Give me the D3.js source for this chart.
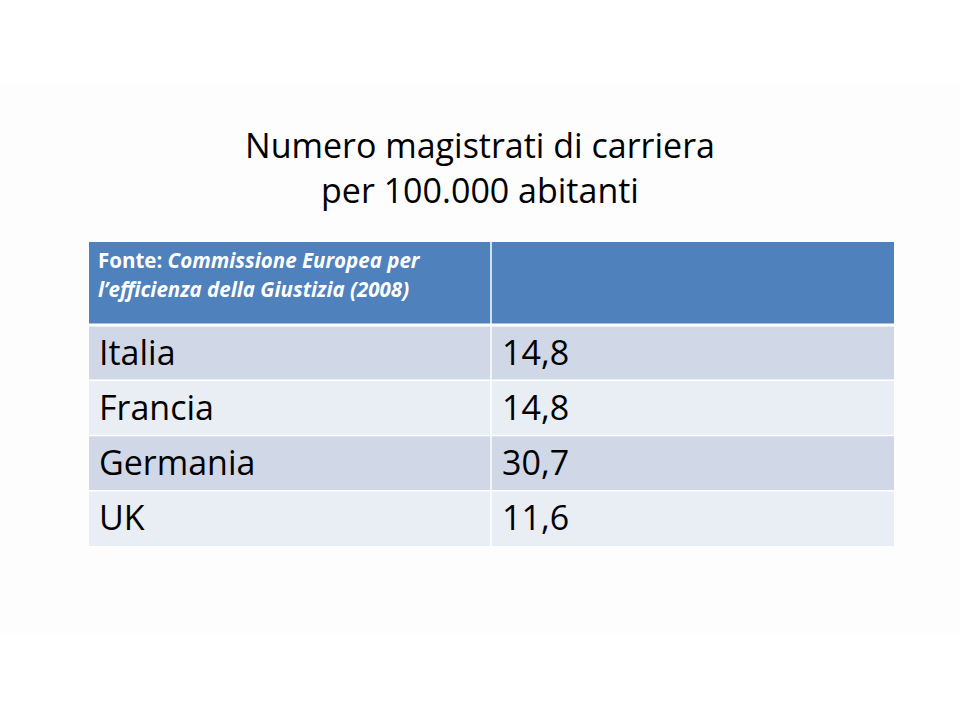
<!DOCTYPE html>
<html><head><meta charset="utf-8">
<script src="https://cdn.jsdelivr.net/npm/d3@7"></script>
<style>body{margin:0;background:#fff}</style>
</head><body><svg id="c" width="960" height="720"></svg>
<script>
const titleLines = ["Numero magistrati di carriera", "per 100.000 abitanti"];
const countries = ["Italia", "Francia", "Germania", "UK"];
const values = [14.8, 14.8, 30.7, 11.6];
const sourceLabel = "Fonte: ";
const sourceLines = ["Commissione Europea per", "l\u2019efficienza della Giustizia (2008)"];

const svg = d3.select("#c");
const font = "'Open Sans', 'Noto Sans', sans-serif";
svg.append("rect").attr("x",0).attr("y",85).attr("width",960).attr("height",548).attr("fill","#fdfdfe");
svg.selectAll(".t").data(titleLines).join("text")
  .attr("x",480).attr("y",(d,i)=>158+i*45).attr("text-anchor","middle")
  .attr("font-family",font).attr("font-size",34).attr("fill","#000").text(d=>d);

const x0 = 89, x1 = 894, xs = 491, headTop = 242, headBot = 325;
const y = d3.scaleBand().domain(countries).range([headBot, 546]).paddingInner(0);
svg.append("rect").attr("x",x0).attr("y",headTop).attr("width",x1-x0).attr("height",headBot-headTop).attr("fill","#4F81BD");
const hl = svg.append("g").attr("font-family",font).attr("font-size",20.5).attr("font-weight","bold").attr("fill","#fff");
const t1 = hl.append("text").attr("x",98).attr("y",268);
t1.append("tspan").text(sourceLabel);
t1.append("tspan").attr("font-style","italic").text(sourceLines[0]);
hl.append("text").attr("x",98).attr("y",297).attr("font-style","italic").text(sourceLines[1]);

const fmt = v => d3.format(".1f")(v).replace(".", ",");
const rows = svg.selectAll(".r").data(countries).join("g");
rows.append("rect").attr("x",x0).attr("y",d=>y(d)).attr("width",x1-x0).attr("height",y.bandwidth())
  .attr("fill",(d,i)=>i%2===0?"#D0D8E8":"#E9EDF4");
rows.append("text").attr("x",99).attr("y",d=>y(d)+y.bandwidth()/2+12)
  .attr("font-family",font).attr("font-size",34).attr("fill","#000").text(d=>d);
rows.append("text").attr("x",502).attr("y",d=>y(d)+y.bandwidth()/2+12)
  .attr("font-family",font).attr("font-size",34).attr("fill","#000").text((d,i)=>fmt(values[i]));
countries.forEach((d,i)=>svg.append("line").attr("x1",x0).attr("x2",x1).attr("y1",y(d)).attr("y2",y(d)).attr("stroke","#fff").attr("stroke-width",i===0?3:1.5));
svg.append("line").attr("x1",xs).attr("x2",xs).attr("y1",headTop).attr("y2",546).attr("stroke","#fff").attr("stroke-width",1.5);
</script></body></html>
